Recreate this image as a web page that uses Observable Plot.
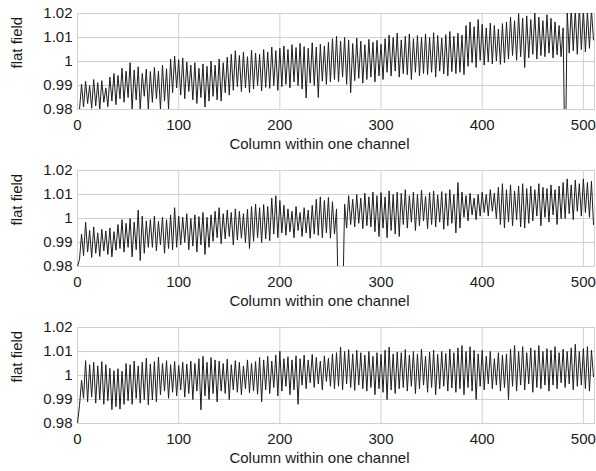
<!DOCTYPE html>
<html><head><meta charset="utf-8">
<script src="https://cdn.jsdelivr.net/npm/d3@7"></script>
<script src="https://cdn.jsdelivr.net/npm/@observablehq/plot@0.6"></script>
<style>body{margin:0;background:#fff} svg{display:block}</style>
</head><body><div id="chart"></div>
<script>
// Panel 1: local maxima / minima per 4-column period (columns 4k and 4k+2)
const hi1 = [0.9800,0.9905,0.9918,0.9900,0.9925,0.9912,0.9920,0.9890,
0.9935,0.9950,0.9942,0.9972,0.9960,
0.9995,0.9965,0.9978,0.9950,0.9968,0.9958,0.9975,0.9960,0.9985,0.9970,
1.0010,1.0022,1.0008,1.0015,0.9998,
0.9985,0.9995,0.9972,0.9990,0.9980,1.0002,0.9985,
1.0010,0.9995,1.0018,
1.0030,1.0045,1.0025,1.0040,1.0020,1.0048,1.0035,1.0030,1.0050,1.0040,1.0060,1.0045,1.0055,
1.0065,1.0050,1.0070,1.0058,1.0075,1.0062,1.0055,1.0078,1.0060,1.0072,1.0065,1.0080,
1.0095,1.0105,1.0085,1.0100,1.0090,1.0075,1.0098,1.0085,1.0070,1.0092,1.0080,1.0088,1.0072,
1.0095,1.0110,1.0100,1.0118,1.0090,1.0105,1.0115,1.0095,1.0108,1.0100,
1.0115,1.0100,1.0120,1.0108,1.0098,1.0112,1.0125,1.0105,1.0118,1.0110,
1.0150,1.0165,1.0145,1.0175,1.0155,1.0140,1.0160,1.0150,1.0135,1.0158,
1.0165,1.0185,1.0170,1.0200,1.0180,1.0190,1.0175,1.0205,1.0185,1.0170,1.0195,1.0180,1.0165,1.0150,
1.0140,
1.0210,1.0225,1.0215,1.0230,1.0220,1.0210,1.0215];
const lo1 = [0.9800,0.9810,0.9825,0.9805,0.9815,0.9800,0.9830,0.9812,
0.9835,0.9820,0.9845,0.9830,0.9850,
0.9800,0.9840,0.9800,0.9855,0.9800,0.9830,0.9845,0.9800,0.9835,0.9800,
0.9870,0.9890,0.9860,0.9845,0.9875,
0.9840,0.9825,0.9850,0.9810,0.9835,0.9855,0.9840,
0.9835,0.9870,0.9860,
0.9880,0.9895,0.9875,0.9890,0.9870,0.9885,0.9900,0.9878,0.9892,0.9888,0.9900,0.9880,0.9895,
0.9905,0.9890,0.9915,0.9900,0.9885,0.9848,0.9910,0.9900,0.9850,0.9918,0.9905,0.9915,
0.9925,0.9915,0.9935,0.9905,0.9870,0.9920,0.9930,0.9910,0.9925,0.9935,0.9915,0.9940,0.9925,
0.9955,0.9940,0.9960,0.9935,0.9950,0.9945,0.9925,0.9955,0.9940,0.9950,
0.9945,0.9955,0.9935,0.9960,0.9948,0.9940,0.9958,0.9950,0.9955,0.9945,
0.9980,0.9995,0.9975,1.0005,0.9985,0.9998,0.9990,1.0002,0.9988,0.9995,
1.0010,1.0025,1.0005,1.0020,0.9975,1.0015,1.0030,1.0010,1.0025,1.0020,1.0035,1.0015,1.0028,1.0020,
0.9500,
1.0035,1.0045,1.0030,1.0050,1.0040,1.0055,1.0090];

// Panel 2
const hi2 = [0.9800,0.9935,0.9985,0.9950,0.9965,0.9940,0.9955,0.9948,0.9960,0.9945,
0.9975,0.9995,0.9980,1.0000,0.9985,1.0035,1.0010,0.9990,
0.9995,1.0010,0.9988,1.0005,0.9995,1.0015,1.0045,1.0010,
1.0005,1.0020,1.0000,1.0015,1.0008,1.0025,1.0005,
1.0015,1.0030,1.0045,1.0020,1.0035,1.0025,1.0040,1.0030,1.0020,1.0038,
1.0050,1.0060,1.0045,1.0058,1.0050,
1.0085,1.0095,1.0075,
1.0055,1.0040,1.0030,1.0050,1.0025,1.0045,1.0035,1.0055,
1.0080,1.0090,1.0075,1.0088,1.0070,
1.0040,
0.9700,
1.0060,1.0095,1.0080,1.0100,1.0085,1.0105,1.0090,
1.0110,1.0095,1.0108,1.0090,1.0115,1.0100,1.0110,
1.0105,1.0120,1.0095,1.0110,1.0100,1.0118,1.0092,1.0108,1.0115,1.0098,1.0112,1.0105,1.0120,1.0100,
1.0150,
1.0110,1.0095,1.0105,1.0085,1.0100,
1.0110,1.0100,1.0120,1.0105,
1.0130,1.0145,1.0120,1.0140,1.0115,1.0135,1.0145,1.0125,
1.0135,1.0120,1.0145,1.0130,1.0125,1.0140,1.0120,1.0135,
1.0150,1.0165,1.0140,1.0160,1.0145,1.0165,1.0150,1.0155];
const lo2 = [0.9830,0.9845,0.9860,0.9838,0.9855,0.9842,0.9865,0.9850,0.9840,0.9868,
0.9875,0.9860,0.9880,0.9840,0.9870,0.9825,0.9855,0.9880,
0.9880,0.9865,0.9890,0.9855,0.9875,0.9870,0.9880,0.9890,
0.9900,0.9870,0.9885,0.9860,0.9890,0.9850,0.9880,
0.9905,0.9920,0.9895,0.9915,0.9925,0.9890,0.9910,0.9918,0.9900,0.9875,
0.9905,0.9920,0.9900,0.9915,0.9908,
0.9935,0.9920,0.9940,
0.9930,0.9945,0.9920,0.9950,0.9925,0.9940,0.9918,0.9935,
0.9930,0.9920,0.9940,0.9918,0.9935,
0.9600,
0.9600,
0.9960,0.9975,0.9965,0.9980,0.9958,0.9970,0.9965,
0.9945,0.9925,0.9960,0.9920,0.9950,0.9935,0.9925,
0.9975,0.9960,0.9985,0.9950,0.9970,0.9990,0.9958,0.9975,0.9965,0.9985,0.9955,0.9970,0.9980,0.9940,
0.9960,
1.0005,0.9990,1.0015,0.9995,1.0010,
1.0025,1.0010,1.0030,1.0000,
0.9975,0.9960,0.9985,0.9970,0.9995,0.9965,0.9960,0.9980,
0.9990,1.0010,0.9970,1.0005,0.9985,1.0015,0.9975,1.0000,
1.0000,1.0020,0.9995,1.0030,1.0010,1.0025,1.0005,0.9975];

// Panel 3
const hi3 = [0.9800,0.9980,1.0062,1.0045,1.0055,1.0040,1.0058,1.0045,
1.0030,1.0020,1.0028,1.0018,
1.0050,1.0045,1.0060,1.0040,1.0055,1.0072,1.0048,1.0058,
1.0077,1.0050,1.0062,1.0045,1.0058,1.0042,1.0055,1.0048,1.0060,1.0050,
1.0070,1.0080,1.0055,1.0075,1.0065,
1.0060,1.0050,1.0068,1.0045,1.0062,1.0055,1.0040,1.0065,1.0050,1.0058,
1.0075,1.0065,1.0080,1.0060,1.0085,1.0101,1.0070,1.0078,1.0065,1.0082,
1.0070,1.0085,1.0065,1.0088,1.0075,1.0060,1.0082,1.0072,1.0090,
1.0095,1.0118,1.0100,1.0108,1.0090,1.0105,1.0095,
1.0085,1.0100,1.0080,1.0095,1.0088,1.0105,1.0118,1.0090,1.0098,
1.0095,1.0108,1.0085,1.0100,1.0090,1.0110,1.0080,1.0098,1.0105,1.0088,1.0100,1.0092,1.0110,1.0095,
1.0115,1.0125,1.0100,1.0120,1.0105,
1.0090,1.0105,1.0080,1.0100,1.0070,1.0095,1.0085,
1.0090,
1.0110,1.0125,1.0100,1.0120,1.0095,1.0115,1.0105,1.0125,1.0100,1.0112,
1.0105,1.0120,1.0095,1.0110,1.0100,1.0115,1.0130,1.0100,1.0112,1.0120,1.0105];
const lo3 = [0.9876,0.9905,0.9890,0.9910,0.9885,0.9900,0.9880,0.9895,
0.9858,0.9870,0.9860,0.9880,
0.9895,0.9880,0.9905,0.9885,0.9900,0.9878,0.9898,0.9890,
0.9920,0.9935,0.9905,0.9930,0.9915,0.9940,0.9910,0.9925,0.9900,0.9935,
0.9857,0.9915,0.9900,0.9925,0.9890,
0.9935,0.9925,0.9900,0.9940,0.9930,0.9920,0.9945,0.9928,0.9935,0.9922,
0.9890,0.9940,0.9925,0.9950,0.9915,0.9935,0.9955,0.9920,0.9940,0.9880,
0.9960,0.9945,0.9970,0.9950,0.9965,0.9940,0.9975,0.9955,0.9945,
0.9955,0.9940,0.9965,0.9950,0.9938,0.9960,0.9945,
0.9935,0.9950,0.9920,0.9945,0.9930,0.9900,0.9940,0.9925,0.9945,
0.9950,0.9935,0.9955,0.9925,0.9945,0.9960,0.9930,0.9950,0.9920,0.9945,0.9955,0.9935,0.9948,0.9930,
0.9945,0.9920,0.9950,0.9935,0.9900,
0.9955,0.9940,0.9965,0.9945,0.9960,0.9935,0.9950,
0.9900,
0.9955,0.9935,0.9960,0.9940,0.9965,0.9930,0.9950,0.9945,0.9960,0.9935,
0.9960,0.9945,0.9970,0.9950,0.9965,0.9940,0.9955,0.9960,0.9945,0.9935,0.9995];

const xTicks = [0, 100, 200, 300, 400, 500];
const yTicks = [0.98, 0.99, 1, 1.01, 1.02];
const yTickLabels = ["0.98", "0.99", "1", "1.01", "1.02"];
const yLabel = "flat field";
const xLabel = "Column within one channel";
const panels = [[hi1, lo1], [hi2, lo2], [hi3, lo3]];

function rows(hi, lo) {
  const r = [];
  hi.forEach((h, k) => {
    r.push({col: 4 * k, v: h});
    r.push({col: 4 * k + 2, v: lo[k]});
  });
  return r;
}

const font = "'Liberation Sans', Arial, sans-serif";
const ink = "#1a1a1a";
const gridColor = "#d0d0d0";

for (const [hi, lo] of panels) {
  const svg = Plot.plot({
    width: 596, height: 157,
    marginLeft: 77, marginRight: 2, marginTop: 13, marginBottom: 48,
    style: {fontFamily: font, fontSize: "15px", color: ink, background: "#fff"},
    x: {domain: [0, 511]},
    y: {domain: [0.98, 1.02]},
    marks: [
      Plot.gridX(xTicks, {stroke: gridColor, strokeOpacity: 1}),
      Plot.gridY(yTicks, {stroke: gridColor, strokeOpacity: 1}),
      Plot.frame({stroke: gridColor}),
      Plot.line(rows(hi, lo), {x: "col", y: "v", stroke: "#1e1e1e", strokeWidth: 1, clip: true}),
      Plot.axisX(xTicks, {tickSize: 0, tickPadding: 10, label: null, fontSize: 15, fill: ink}),
      Plot.axisY(yTicks, {tickSize: 0, tickPadding: 5, label: null, fontSize: 15, fill: ink,
        tickFormat: d => yTickLabels[yTicks.indexOf(d)]}),
      Plot.text([yLabel], {text: d => d, frameAnchor: "left", rotate: -90, dx: -60, dy: 7, fontSize: 15, fill: ink}),
      Plot.text([xLabel], {text: d => d, frameAnchor: "bottom", dx: -16.5, dy: 39.5, fontSize: 15, fill: ink})
    ]
  });
  document.getElementById("chart").append(svg);
}
</script></body></html>
